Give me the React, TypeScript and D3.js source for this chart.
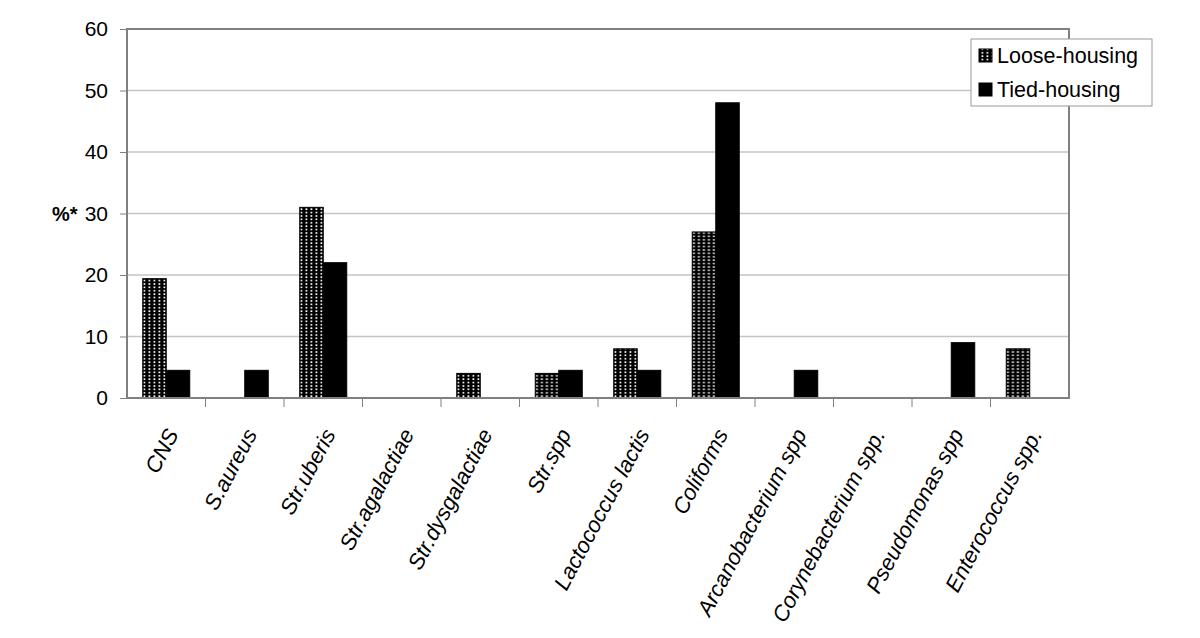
import * as d3 from "d3";
import { useRef, useEffect } from "react";

const WIDTH = 1200;
const HEIGHT = 638;
const PLOT = { left: 127, right: 1069, top: 29, bottom: 398 };

const categories = [
  "CNS",
  "S.aureus",
  "Str.uberis",
  "Str.agalactiae",
  "Str.dysgalactiae",
  "Str.spp",
  "Lactococcus lactis",
  "Coliforms",
  "Arcanobacterium spp",
  "Corynebacterium spp.",
  "Pseudomonas spp",
  "Enterococcus spp.",
];
const series = ["Loose-housing", "Tied-housing"];
const looseHousing = [19.4, 0, 31, 0, 4, 4, 8, 27, 0, 0, 0, 8];
const tiedHousing = [4.5, 4.5, 22, 0, 0, 4.5, 4.5, 48, 4.5, 0, 9, 0];
const yTicks = [0, 10, 20, 30, 40, 50, 60];

const FONT = "'Liberation Sans', Arial, sans-serif";

export default function App() {
  const svgRef = useRef(null);

  useEffect(() => {
    const svg = d3.select(svgRef.current);
    svg.selectAll("*").remove(); // Clear previous render

    // dotted pattern for loose-housing
    const defs = svg.append("defs");
    const pat = defs
      .append("pattern")
      .attr("id", "dots")
      .attr("patternUnits", "userSpaceOnUse")
      .attr("width", 5)
      .attr("height", 3.4);
    pat.append("rect").attr("width", 5).attr("height", 3.4).attr("fill", "#000");
    pat.append("rect").attr("x", 1.5).attr("y", 1).attr("width", 1.8).attr("height", 1.6).attr("fill", "#fff");

    const xScale = d3
      .scaleBand()
      .domain(categories)
      .range([PLOT.left, PLOT.right])
      .padding(0);

    const xInner = d3
      .scaleBand()
      .domain(series)
      .range([0, xScale.bandwidth()])
      .paddingInner(0)
      .paddingOuter(0.67);

    const yScale = d3.scaleLinear().domain([0, 60]).range([PLOT.bottom, PLOT.top]);

    // Grid
    svg
      .append("g")
      .selectAll("line")
      .data(yTicks.filter((t) => t > 0 && t < 60))
      .enter()
      .append("line")
      .attr("x1", PLOT.left)
      .attr("x2", PLOT.right)
      .attr("y1", (d) => yScale(d))
      .attr("y2", (d) => yScale(d))
      .attr("stroke", "#c4c4c4")
      .attr("stroke-width", 1.3);

    // Bars
    const data = categories.map((c, i) => ({ c, vals: [looseHousing[i], tiedHousing[i]] }));
    const groups = svg
      .append("g")
      .selectAll("g")
      .data(data)
      .enter()
      .append("g")
      .attr("transform", (d) => `translate(${xScale(d.c)},0)`);

    groups
      .selectAll("rect")
      .data((d) => d.vals.map((v, j) => ({ s: series[j], v })).filter((e) => e.v > 0))
      .enter()
      .append("rect")
      .attr("x", (d) => xInner(d.s))
      .attr("y", (d) => yScale(d.v))
      .attr("width", xInner.bandwidth())
      .attr("height", (d) => yScale(0) - yScale(d.v))
      .attr("fill", (d) => (d.s === series[0] ? "url(#dots)" : "#000"))
      .attr("stroke", "#000")
      .attr("stroke-width", 1);

    // Frame
    svg
      .append("rect")
      .attr("x", PLOT.left)
      .attr("y", PLOT.top)
      .attr("width", PLOT.right - PLOT.left)
      .attr("height", PLOT.bottom - PLOT.top)
      .attr("fill", "none")
      .attr("stroke", "#808080")
      .attr("stroke-width", 2);

    // Y axis
    const yAxis = svg
      .append("g")
      .attr("transform", `translate(${PLOT.left},0)`)
      .call(d3.axisLeft(yScale).tickValues(yTicks).tickSize(7).tickPadding(12));
    yAxis.select(".domain").remove();
    yAxis.selectAll("line").attr("stroke", "#808080");
    yAxis
      .selectAll("text")
      .attr("fill", "#000")
      .style("font-family", FONT)
      .style("font-size", "21px");

    svg
      .append("text")
      .attr("x", 52)
      .attr("y", yScale(30) + 7)
      .text("%*")
      .style("font-family", FONT)
      .style("font-size", "20px")
      .style("font-weight", "bold");

    // X axis ticks between categories
    svg
      .append("g")
      .selectAll("line")
      .data(categories.slice(1))
      .enter()
      .append("line")
      .attr("x1", (d) => xScale(d))
      .attr("x2", (d) => xScale(d))
      .attr("y1", PLOT.bottom)
      .attr("y2", PLOT.bottom + 9)
      .attr("stroke", "#808080");

    // X labels
    svg
      .append("g")
      .selectAll("text")
      .data(categories)
      .enter()
      .append("text")
      .attr(
        "transform",
        (d) => `translate(${xScale(d) + xScale.bandwidth() / 2 + 13},${PLOT.bottom + 36}) rotate(-62)`
      )
      .attr("text-anchor", "end")
      .text((d) => d)
      .style("font-family", FONT)
      .style("font-size", "22px")
      .style("font-style", "italic");

    // Legend
    const legend = svg.append("g");
    legend
      .append("rect")
      .attr("x", 971)
      .attr("y", 39)
      .attr("width", 181)
      .attr("height", 67)
      .attr("fill", "#fff")
      .attr("stroke", "#999")
      .attr("stroke-width", 1);
    series.forEach((s, i) => {
      legend
        .append("rect")
        .attr("x", 979)
        .attr("y", 49 + i * 34)
        .attr("width", 13)
        .attr("height", 13)
        .attr("fill", i === 0 ? "url(#dots)" : "#000")
        .attr("stroke", "#000");
      legend
        .append("text")
        .attr("x", 997)
        .attr("y", 63 + i * 34)
        .text(s)
        .style("font-family", FONT)
        .style("font-size", "21.5px");
    });
  }, []);

  return (
    <svg
      ref={svgRef}
      width={WIDTH}
      height={HEIGHT}
      style={{ position: "absolute", left: 0, top: 0, background: "#fff" }}
    />
  );
}
